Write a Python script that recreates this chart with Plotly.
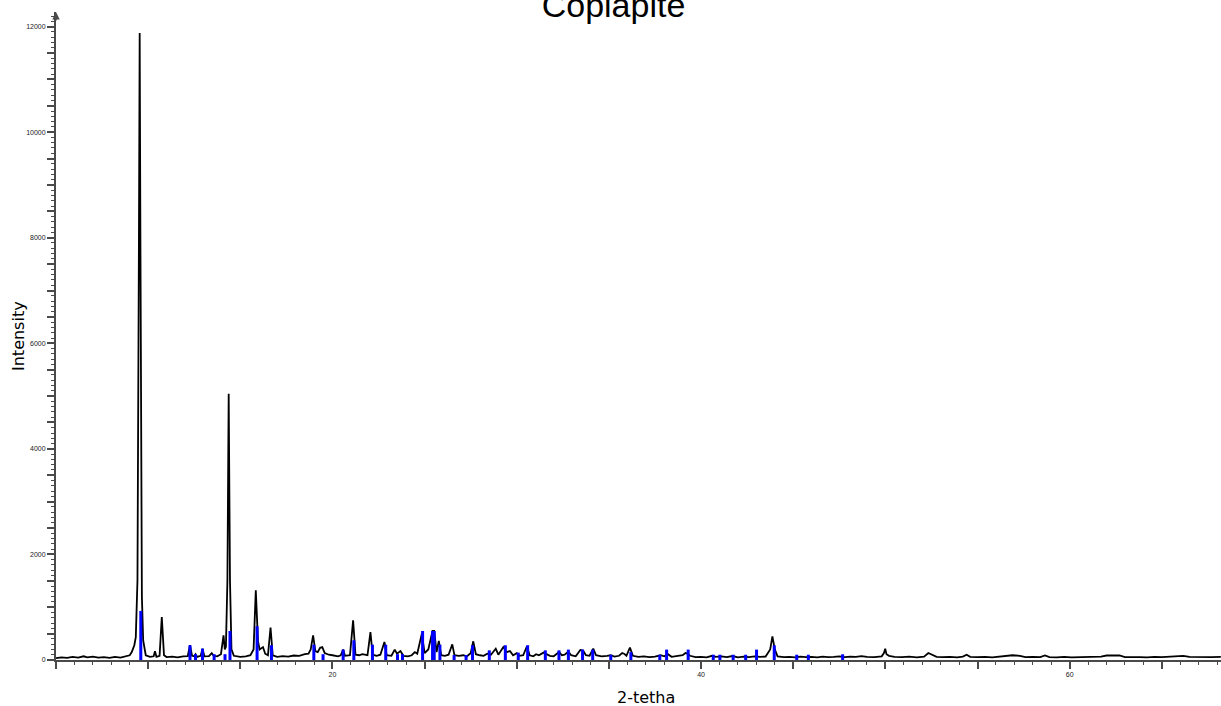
import plotly.graph_objects as go

two_theta = [
    5.0, 5.3, 5.6, 5.9, 6.2, 6.5, 6.7, 7.0, 7.3, 7.6, 7.9, 8.2, 8.5, 8.8, 9.0,
    9.11, 9.25, 9.33, 9.42, 9.50, 9.54, 9.58, 9.66, 9.73, 9.87,
    10.1, 10.30, 10.37, 10.45, 10.62, 10.74, 10.86, 11.0, 11.3, 11.6, 11.9,
    12.15, 12.27, 12.38, 12.5, 12.57, 12.65, 12.85, 12.95, 13.05, 13.3, 13.45,
    13.55, 13.75, 13.95, 14.09, 14.16, 14.22, 14.30, 14.37, 14.44, 14.52, 14.65,
    15.0, 15.3, 15.55, 15.72, 15.84, 15.96, 16.05, 16.23, 16.35, 16.5, 16.64,
    16.76, 17.0, 17.3, 17.6, 17.9, 18.2, 18.5, 18.7, 18.82, 18.95, 19.07, 19.2,
    19.33, 19.45, 19.58, 19.8, 20.0, 20.3, 20.45, 20.58, 20.68, 20.95, 21.12,
    21.25, 21.45, 21.62, 21.9, 22.06, 22.18, 22.4, 22.6, 22.82, 22.94, 23.2,
    23.38, 23.5, 23.69, 23.85, 24.1, 24.3, 24.47, 24.6, 24.85, 25.0, 25.2,
    25.43, 25.52, 25.65, 25.77, 25.9, 26.1, 26.3, 26.50, 26.62, 26.85, 27.1,
    27.3, 27.5, 27.64, 27.78, 28.0, 28.2, 28.4, 28.6, 28.86, 29.0, 29.27, 29.45,
    29.63, 29.8, 30.0, 30.15, 30.35, 30.55, 30.7, 30.9, 31.05, 31.2, 31.45, 31.6,
    31.8, 32.0, 32.3, 32.45, 32.6, 32.8, 32.95, 33.2, 33.45, 33.6, 33.75, 33.95,
    34.15, 34.3, 34.6, 34.9, 35.1, 35.3, 35.55, 35.72, 35.82, 35.95, 36.14,
    36.3, 36.6, 36.9, 37.2, 37.5, 37.8, 38.0, 38.2, 38.4, 38.7, 39.0, 39.15,
    39.25, 39.4, 39.7, 40.0, 40.3, 40.6, 40.8, 41.1, 41.4, 41.7, 42.0, 42.3,
    42.6, 42.9, 43.2, 43.5, 43.75, 43.87, 44.0, 44.15, 44.5, 44.8, 45.1, 45.4,
    45.7, 46.0, 46.3, 46.6, 46.9, 47.2, 47.5, 47.8, 48.1, 48.4, 48.7, 49.0,
    49.4, 49.8, 49.92, 49.99, 50.06, 50.2, 50.5, 50.9, 51.3, 51.7, 52.1, 52.33,
    52.55, 52.78, 53.1, 53.5, 53.9, 54.2, 54.41, 54.6, 55.0, 55.4, 55.8, 56.2,
    56.6, 56.9, 57.3, 57.6, 58.0, 58.4, 58.66, 58.9, 59.3, 59.7, 60.1, 60.5,
    60.9, 61.3, 61.7, 62.0, 62.4, 62.7, 63.0, 63.4, 63.8, 64.2, 64.6, 65.0,
    65.4, 65.8, 66.16, 66.5, 66.9, 67.3, 67.7, 68.2,
]
intensity = [
    35, 50, 40, 60, 45, 70, 50, 65, 45, 55, 40, 60, 45, 65, 90,
    150, 280, 435, 1500, 8000, 11880, 8000, 1200, 370, 90,
    60, 70, 165, 60, 80, 815, 90, 55, 65, 50, 70,
    75, 280, 80, 70, 110, 60, 80, 215, 70, 75, 130,
    80, 70, 110, 468, 200, 250, 1500, 5045, 1500, 200, 80,
    60, 70, 90, 200, 1320, 350, 200, 245, 120, 90, 615,
    90, 60, 75, 65, 85, 80, 110, 120, 200, 468, 170, 150,
    230, 245, 130, 100, 90, 70, 90, 197, 80, 90, 752,
    100, 90, 110, 90, 530, 100, 80, 100, 341, 90, 80,
    197, 120, 170, 80, 70, 90, 150, 120, 500, 130, 200,
    550, 550, 150, 360, 90, 80, 100, 297, 90, 80, 90,
    70, 130, 354, 110, 90, 80, 120, 100, 215, 100, 245, 150,
    170, 90, 130, 80, 90, 260, 90, 70, 110, 90, 140, 120,
    80, 70, 150, 90, 100, 160, 90, 70, 190, 180, 90, 80,
    215, 90, 70, 80, 90, 65, 80, 133, 120, 80, 235,
    80, 60, 70, 55, 65, 90, 70, 110, 60, 70, 90, 133,
    120, 80, 55, 60, 50, 80, 60, 70, 55, 75, 50, 65,
    55, 70, 60, 65, 200, 449, 200, 70, 55, 60, 50, 65,
    55, 60, 50, 65, 55, 60, 70, 55, 65, 60, 75, 60,
    55, 70, 130, 215, 110, 80, 60, 55, 65, 50, 65, 133,
    100, 60, 55, 60, 50, 65, 100, 60, 55, 60, 50, 65,
    85, 90, 80, 55, 60, 55, 85, 55, 50, 60, 50, 55,
    60, 55, 65, 85, 80, 85, 55, 60, 55, 50, 60, 55,
    60, 65, 80, 60, 55, 60, 55, 60,
]

# ---- reference stick pattern (blue) ----
ref_pos = [
    9.60, 12.27, 12.57, 12.95, 13.58, 14.17, 14.44, 15.91, 16.69, 18.99,
    19.49, 20.58, 21.16, 22.17, 22.89, 23.53, 23.80, 24.89, 25.43, 25.52,
    25.83, 26.60, 27.25, 27.60, 28.51, 29.38, 30.08, 30.59, 31.55, 32.29,
    32.80, 33.57, 34.12, 35.10, 36.19, 37.76, 38.13, 39.30, 40.66, 41.02,
    41.74, 42.42, 43.01, 43.97, 45.19, 45.82, 47.68,
]
ref_int = [
    930, 280, 110, 215, 110, 110, 550, 640, 280, 290,
    110, 197, 373, 290, 290, 110, 110, 550, 550, 550,
    290, 95, 95, 280, 183, 280, 140, 280, 183, 183,
    197, 197, 197, 100, 150, 100, 197, 197, 100, 100,
    100, 100, 197, 280, 100, 100, 108,
]

x_labelled = [20, 40, 60]
y_labelled = [0, 2000, 4000, 6000, 8000, 10000, 12000]
x_major = list(range(5, 70, 5))
y_major = list(range(0, 12001, 500))

title_text = "Copiapite"
x_title = "2-tetha"
y_title = "Intensity"

# stick segments built from the reference arrays
stick_x, stick_y = [], []
for p, h in zip(ref_pos, ref_int):
    stick_x += [p, p, None]
    stick_y += [0, h, None]

fig = go.Figure()
fig.add_trace(go.Scatter(x=two_theta, y=intensity, mode="lines",
                         line=dict(color="black", width=1.8), hoverinfo="x+y"))
fig.add_trace(go.Scatter(x=stick_x, y=stick_y, mode="lines",
                         line=dict(color="#0000ff", width=3), hoverinfo="skip"))

W, H = 1221, 706
L, R, T, B = 56, 0, 12, 46
pw, ph = W - L - R, H - T - B
YMAX = 12276
XMIN, XMAX = 5, 68.21

tickfont = dict(family="Liberation Sans, Arial, sans-serif", size=7, color="#222")
axcol = "#4a4a4a"

fig.update_layout(
    width=W, height=H,
    margin=dict(l=L, r=R, t=T, b=B, pad=0),
    paper_bgcolor="white", plot_bgcolor="white",
    showlegend=False,
    title=dict(text=title_text, x=613.5 / W, xanchor="center", xref="container",
               y=1 - 5 / H, yanchor="middle", yref="container",
               font=dict(family="Liberation Sans, Arial, sans-serif", size=34, color="black")),
    xaxis=dict(
        range=[XMIN, XMAX], showgrid=False, zeroline=False,
        showline=True, linecolor=axcol, linewidth=2,
        tickmode="array", tickvals=x_major,
        ticktext=[str(v) if v in x_labelled else "" for v in x_major],
        ticks="outside", ticklen=7, tickwidth=1.5, tickcolor=axcol,
        tickfont=tickfont,
        minor=dict(dtick=1, tick0=5, ticks="outside", ticklen=3, tickwidth=1, tickcolor=axcol),
    ),
    yaxis=dict(
        range=[0, YMAX], showgrid=False, zeroline=False,
        showline=True, linecolor=axcol, linewidth=2,
        tickmode="array", tickvals=y_major,
        ticktext=[str(v) if v in y_labelled else "" for v in y_major],
        ticks="outside", ticklen=7, tickwidth=1.5, tickcolor=axcol,
        tickfont=tickfont,
        minor=dict(dtick=100, tick0=0, ticks="outside", ticklen=3, tickwidth=1, tickcolor=axcol),
    ),
    annotations=[
        dict(text=x_title, xref="paper", yref="paper",
             x=(646 - L) / pw, y=(H - B - 697) / ph, xanchor="center", yanchor="middle",
             showarrow=False, font=dict(family="DejaVu Sans, sans-serif", size=16, color="black")),
        dict(text=y_title, xref="paper", yref="paper", textangle=-90,
             x=(18 - L) / pw, y=(H - B - 336) / ph, xanchor="center", yanchor="middle",
             showarrow=False, font=dict(family="DejaVu Sans, sans-serif", size=16, color="black")),
        dict(text="", xref="paper", yref="paper", x=0, y=1.0, ax=0, ay=10,
             showarrow=True, arrowhead=2, arrowsize=1, arrowwidth=1.5, arrowcolor=axcol,
             standoff=0),
    ],
)

fig.write_html("out.html",
               config={"displayModeBar": False},
               post_script="document.body.style.margin='0';document.body.style.overflow='hidden';")
